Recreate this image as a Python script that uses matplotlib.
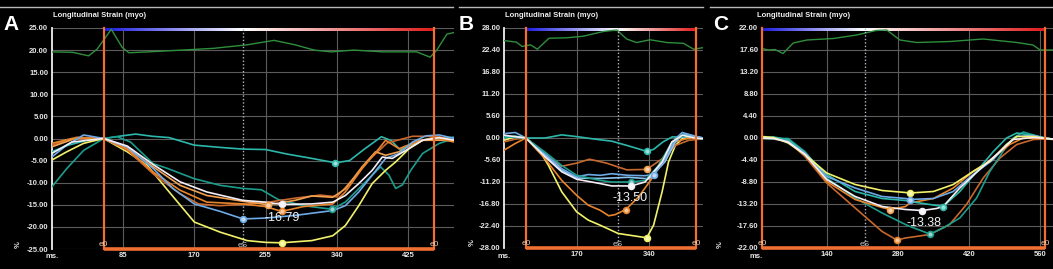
import numpy as np
import matplotlib
matplotlib.use("Agg")
import matplotlib.pyplot as plt
from matplotlib.colors import LinearSegmentedColormap
from matplotlib.lines import Line2D

plt.rcParams['font.family'] = ['Liberation Sans', 'DejaVu Sans']

W, H = 1053, 269

# colours of the segment curves
C_TEAL = '#2cb8ab'
C_TEAL2 = '#1c9c8c'
C_YEL = '#f2f26a'
C_BLUE = '#6eaae6'
C_BLUE2 = '#8cc4f0'
C_WHITE = '#f4eef6'
C_OR = '#e8842a'
C_OR2 = '#f0a050'
C_BROWN = '#c8682c'
C_GREEN = '#2f8f3c'
C_FRAME = '#f07034'

# ---------------- panel A ----------------
a_xticks = [85, 170, 255, 340, 425]
a_yticks = [25, 20, 15, 10, 5, 0, -5, -10, -15, -20, -25]
a_e0 = (62, 456)
a_es = 228
a_green = [(0, 19.6), (25, 19.5), (44, 18.7), (54, 20.2), (62, 22.3), (71, 24.7), (78, 22.5), (84, 20.6),
           (92, 19.4), (115, 19.6), (155, 20.0), (193, 20.4), (233, 21.2), (265, 22.2), (290, 21.2),
           (313, 20.0), (333, 19.6), (360, 20.0), (395, 19.6), (435, 19.6), (451, 18.4), (459, 20.0),
           (471, 23.6), (480, 24.0)]
a_teal1 = [(0, -3.0), (20, -1.5), (40, -0.5), (62, 0.0), (80, 0.5), (100, 1.0), (120, 0.5), (140, 0.2),
           (170, -1.5), (200, -2.0), (228, -2.4), (255, -2.5), (280, -3.5), (310, -4.5), (338, -5.5),
           (355, -5.0), (372, -2.5), (393, 0.4), (405, -0.5), (415, -2.5), (428, -1.5), (445, -0.2),
           (460, 0.0), (480, 0.3)]
a_teal2 = [(0, -11.0), (18, -6.8), (38, -2.7), (62, 0.0), (78, 0.4), (94, -0.8), (121, -5.7), (137, -6.7),
           (170, -9.1), (201, -10.6), (228, -11.3), (250, -11.6), (270, -13.8), (300, -15.2), (334, -16.0),
           (350, -14.4), (370, -10.6), (392, -6.4), (402, -8.3), (410, -11.3), (418, -10.5), (428, -7.2),
           (442, -3.4), (462, -1.1), (480, 0.0)]
a_yellow = [(0, -4.9), (18, -3.0), (38, -1.1), (62, 0.0), (90, -3.0), (114, -6.1), (137, -11.4), (170, -18.9),
            (201, -21.2), (233, -23.1), (255, -23.5), (274, -23.6), (310, -23.1), (335, -22.0), (350, -19.7),
            (366, -15.2), (382, -10.2), (398, -7.2), (410, -5.3), (426, -2.3), (442, -0.4), (462, 0.2),
            (480, -0.4)]
a_blue = [(0, -4.2), (18, -1.5), (38, 0.8), (62, 0.0), (90, -1.9), (121, -6.8), (145, -11.4), (170, -14.8),
          (201, -16.5), (228, -18.2), (255, -18.0), (290, -17.4), (335, -16.3), (350, -15.2), (366, -12.1),
          (382, -8.3), (398, -4.5), (414, -3.4), (430, -0.8), (446, 0.6), (462, 0.8), (480, 0.0)]
a_white = [(0, -3.4), (24, -0.8), (62, 0.0), (90, -1.7), (121, -5.9), (153, -9.8), (185, -12.1), (228, -14.0),
           (255, -14.4), (274, -14.9), (310, -14.8), (335, -14.4), (350, -12.9), (366, -10.2), (382, -7.2),
           (394, -4.2), (406, -4.5), (422, -2.7), (442, -0.4), (462, 0.2), (480, -0.4)]
a_orange1 = [(0, -1.1), (24, 0.0), (62, 0.0), (90, -2.3), (121, -7.6), (153, -11.7), (185, -14.4), (228, -14.8),
             (255, -15.4), (274, -16.5), (300, -15.4), (335, -14.8), (350, -12.1), (370, -6.8), (390, -2.3),
             (398, -0.4), (414, -2.3), (430, -1.1), (454, 0.2), (480, -0.8)]
a_orange2 = [(0, -1.9), (28, 0.0), (62, 0.0), (90, -2.2), (121, -6.4), (153, -10.6), (185, -12.9), (228, -14.2),
             (258, -15.0), (290, -14.0), (310, -13.0), (335, -13.3), (350, -11.4), (370, -6.4), (386, -3.0),
             (398, -3.8), (414, -3.0), (438, -0.4), (480, -0.4)]
a_brown = [(0, -1.5), (30, 0.3), (62, 0.0), (90, -2.6), (121, -8.0), (153, -12.5), (175, -14.8), (200, -15.2),
           (228, -14.9), (255, -14.5), (290, -13.5), (320, -12.8), (340, -13.2), (360, -9.0), (380, -4.5),
           (400, -1.0), (430, 0.5), (460, 0.5), (480, -0.5)]
a_marks = [(338, -5.5, C_TEAL), (334, -16.0, C_TEAL2), (274, -23.6, C_YEL), (228, -18.2, C_BLUE),
           (274, -14.9, C_WHITE), (274, -16.5, C_OR), (258, -15.0, C_OR2)]
a_peak = (254, -18.0, '-16.79')

# ---------------- panel B ----------------
b_xticks = [170, 340]
b_yticks = [28, 22.4, 16.8, 11.2, 5.6, 0, -5.6, -11.2, -16.8, -22.4, -28]
b_e0 = (51, 450)
b_es = 266
b_green = [(0, 24.8), (29, 24.4), (42, 23.3), (62, 23.7), (78, 22.6), (105, 25.4), (146, 25.5), (185, 25.9),
           (232, 27.1), (264, 27.5), (287, 25.2), (310, 24.3), (342, 25.0), (381, 24.3), (420, 24.1),
           (444, 22.6), (466, 23.0)]
b_teal1 = [(0, 0.0), (25, 0.5), (51, 0.0), (96, 0.0), (135, 0.8), (174, 0.3), (213, -0.3), (252, -0.8),
           (291, -2.0), (334, -3.4), (350, -2.9), (372, -1.0), (394, 0.3), (448, 0.0), (466, -0.2)]
b_yellow = [(0, -0.6), (26, 0.3), (51, 0.0), (80, -2.7), (104, -7.0), (135, -13.7), (170, -18.8), (197, -20.9),
            (225, -22.2), (267, -24.3), (334, -25.4), (350, -22.2), (370, -13.7), (385, -6.1), (401, -1.9),
            (417, -0.2), (448, 0.0), (466, -0.2)]
b_orange1 = [(0, -3.1), (26, -1.4), (51, 0.0), (96, -5.3), (135, -10.8), (170, -14.6), (197, -17.1),
             (225, -18.4), (245, -19.8), (260, -19.5), (285, -18.2), (315, -15.0), (346, -10.3), (370, -5.3),
             (401, -1.0), (432, 0.0), (466, -0.2)]
b_orange2 = [(0, -1.0), (26, -0.3), (51, 0.0), (96, -4.4), (135, -7.2), (170, -6.4), (200, -5.4), (240, -6.4),
             (287, -8.1), (334, -8.0), (370, -5.3), (401, -1.9), (432, -0.6), (466, -0.2)]
b_blue = [(0, 1.1), (26, 1.4), (51, 0.0), (96, -4.0), (135, -7.8), (170, -9.9), (197, -9.3), (225, -9.5),
          (252, -9.1), (291, -9.5), (330, -9.6), (352, -9.3), (377, -5.3), (401, -0.2), (417, 1.4),
          (440, 0.7), (466, 0.0)]
b_blue2 = [(0, 0.5), (51, 0.0), (96, -4.4), (135, -8.2), (170, -10.2), (225, -10.3), (291, -10.0),
           (340, -10.4), (377, -6.0), (401, -1.0), (420, 1.0), (466, 0.0)]
b_white = [(0, 0.7), (51, 0.0), (96, -4.8), (135, -8.6), (170, -10.5), (225, -11.6), (252, -12.2),
           (298, -12.2), (330, -11.2), (370, -6.1), (393, -1.0), (417, 0.7), (448, 0.0), (466, -0.2)]
b_teal2 = [(0, 0.3), (51, 0.0), (96, -3.6), (135, -7.0), (170, -9.5), (225, -10.8), (252, -11.2),
           (298, -11.2), (330, -10.8), (362, -7.0), (393, -1.0), (417, 0.8), (448, 0.0), (466, -0.3)]
b_marks = [(334, -3.4, C_TEAL), (334, -25.4, C_YEL), (285, -18.2, C_OR), (334, -8.0, C_OR2),
           (352, -9.3, C_BLUE), (298, -11.2, C_TEAL2), (298, -12.2, C_WHITE)]
b_peak = (255, -15.3, '-13.50')

# ---------------- panel C ----------------
c_xticks = [140, 280, 420, 560]
c_yticks = [22, 17.6, 13.2, 8.8, 4.4, 0, -4.4, -8.8, -13.2, -17.6, -22]
c_e0 = (13, 570)
c_es = 215
c_green = [(12, 17.9), (25, 17.6), (38, 17.7), (54, 16.9), (74, 19.0), (101, 19.6), (153, 19.9),
           (199, 20.6), (237, 21.5), (258, 21.6), (284, 19.6), (317, 19.1), (383, 19.3), (448, 19.8),
           (514, 19.1), (546, 18.6), (560, 17.6), (585, 17.6)]
c_yellow = [(12, 0.3), (35, 0.1), (64, -1.0), (97, -3.3), (140, -7.0), (196, -9.3), (249, -10.5),
            (295, -10.9), (304, -11.0), (350, -10.7), (389, -9.3), (428, -6.7), (461, -4.7), (494, -1.3),
            (514, 0.3), (547, 0.3), (573, -0.1), (585, -0.2)]
c_blue = [(12, 0.1), (35, 0.0), (64, -0.7), (97, -3.0), (140, -7.7), (196, -10.0), (249, -11.7),
          (295, -12.1), (304, -12.3), (350, -12.1), (389, -10.7), (428, -7.3), (468, -4.3), (494, -1.3),
          (514, 0.3), (547, 0.5), (573, -0.1), (585, -0.2)]
c_white = [(12, 0.0), (35, -0.1), (64, -0.8), (97, -3.3), (140, -8.3), (196, -11.7), (249, -13.7),
           (295, -14.3), (328, -14.5), (356, -14.1), (369, -13.7), (402, -10.0), (441, -6.3), (481, -2.7),
           (507, -0.3), (547, 0.1), (573, -0.1), (585, -0.2)]
c_teal1 = [(12, 0.0), (35, 0.2), (64, -0.3), (97, -3.0), (140, -7.3), (196, -10.7), (249, -12.1),
           (295, -12.5), (304, -12.7), (343, -13.3), (369, -13.7), (402, -10.7), (435, -6.7), (468, -2.7),
           (494, 0.0), (514, 1.0), (547, 0.5), (573, -0.1), (585, -0.2)]
c_teal2 = [(12, -0.1), (35, -0.2), (64, -0.1), (97, -2.7), (140, -8.0), (196, -12.0), (249, -15.0),
           (295, -17.3), (304, -17.7), (330, -18.7), (343, -19.2), (369, -18.0), (402, -16.0), (435, -12.0),
           (461, -6.7), (487, -2.7), (507, 0.0), (527, 1.2), (547, 0.6), (573, -0.1), (585, -0.2)]
c_orange1 = [(12, -0.1), (35, -0.2), (64, -0.7), (97, -3.7), (140, -9.0), (196, -14.0), (249, -18.7),
             (278, -20.4), (295, -20.0), (343, -19.3), (382, -17.3), (415, -13.3), (448, -8.0), (481, -4.0),
             (514, -1.3), (547, -0.3), (573, -0.2), (585, -0.3)]
c_orange2 = [(12, 0.0), (35, 0.0), (64, -0.7), (97, -3.2), (140, -8.7), (196, -12.3), (249, -13.9),
             (265, -14.3), (295, -13.7), (304, -13.0), (350, -12.1), (389, -10.0), (428, -6.7), (468, -4.0),
             (500, -1.3), (527, 0.0), (573, -0.1), (585, -0.2)]
c_marks = [(304, -11.0, C_YEL), (304, -12.3, C_BLUE), (328, -14.5, C_WHITE), (369, -13.7, C_TEAL),
           (343, -19.2, C_TEAL2), (278, -20.4, C_OR), (265, -14.3, C_OR2)]
c_peak = (298, -17.0, '-13.38')

fig = plt.figure(figsize=(W / 100, H / 100), dpi=100, facecolor='black')


def add_ax(l, r, t, b):
    return fig.add_axes([l / W, 1 - b / H, (r - l) / W, (b - t) / H])


def lighter(c):
    rgb = np.array(matplotlib.colors.to_rgb(c))
    return tuple(rgb + (1 - rgb) * 0.55)


def draw_panel(ax, xlim, ylim, yticks, xticks, e0, es, green, curves, marks, peak):
    ax.set_facecolor('black')
    x0, x1 = xlim
    y0, y1 = ylim
    # strain colour bar on top
    f = (es - e0[0]) / (e0[1] - e0[0])
    cmap = LinearSegmentedColormap.from_list('st', [(0, '#1c1ce0'), (f, '#ffffff'), (1, '#e01c1c')])
    h = (y1 - y0) * 0.014
    ax.imshow(np.linspace(0, 1, 256)[None, :], cmap=cmap, extent=(e0[0], e0[1], y1 - h, y1),
              aspect='auto', zorder=2)
    ax.set_xlim(x0, x1)
    ax.set_ylim(y0, y1)
    ax.set_yticks(yticks)
    ax.set_yticklabels(['%.2f' % v for v in yticks])
    ax.set_xticks(xticks)
    ax.set_xticklabels([str(v) for v in xticks])
    ax.tick_params(length=0, colors='#e6e6e6', labelsize=5.5, pad=2.5)
    for lab in ax.get_xticklabels() + ax.get_yticklabels():
        lab.set_fontweight('bold')
    ax.grid(color='#5c5c5c', lw=0.8)
    ax.set_axisbelow(True)
    for s in ['top', 'right', 'bottom']:
        ax.spines[s].set_visible(False)
    ax.spines['left'].set_color('#f0f0f0')
    ax.spines['left'].set_linewidth(1.3)

    gx, gy = np.array(green).T
    ax.plot(gx, gy, color=C_GREEN, lw=1.0, zorder=3)
    for pts, col in curves:
        x, y = np.array(pts).T
        ax.plot(x, y, color=col, lw=1.2, zorder=4)
    for mx, my, col in marks:
        ax.plot(mx, my, 'o', ms=4.2, mfc=lighter(col), mec=col, mew=1.2, zorder=6)
    ax.text(peak[0], peak[1], peak[2], color='#f2f2f2', fontsize=9, ha='left', va='center', zorder=7)

    # event lines
    ax.axvline(es, color='#b4b4c4', ls=(0, (1, 1.5)), lw=1, zorder=3)
    ax.text(es, y0, 'eS', color='#c8c8c8', fontsize=6, ha='center', va='bottom', zorder=3)
    for e in e0:
        ax.plot([e, e], [y0, y1], color=C_FRAME, lw=1.6, zorder=5, clip_on=False)
        ax.text(e, y0 + (y1 - y0) * 0.004, 'e0', color='#f0c8a8', fontsize=6, ha='center', va='bottom',
                zorder=6)
    ax.plot([e0[0], e0[1]], [y0, y0], color=C_FRAME, lw=2.6, zorder=5, clip_on=False,
            solid_capstyle='butt')


axA = add_ax(51.7, 454.4, 28, 249)
draw_panel(axA, (0, 480), (-25, 25), a_yticks, a_xticks, a_e0, a_es, a_green,
           [(a_teal1, C_TEAL), (a_teal2, C_TEAL2), (a_yellow, C_YEL), (a_brown, C_BROWN),
            (a_orange2, C_OR2), (a_orange1, C_OR), (a_blue, C_BLUE), (a_white, C_WHITE)],
           a_marks, a_peak)

axB = add_ax(504.1, 703.1, 28, 248)
draw_panel(axB, (0, 466), (-28, 28), b_yticks, b_xticks, b_e0, b_es, b_green,
           [(b_teal1, C_TEAL), (b_yellow, C_YEL), (b_orange1, C_OR), (b_orange2, C_BROWN),
            (b_blue2, C_BLUE2), (b_blue, C_BLUE), (b_teal2, C_TEAL2), (b_white, C_WHITE)],
           b_marks, b_peak)

axC = add_ax(761.7, 1052.8, 28, 248)
draw_panel(axC, (12, 585), (-22, 22), c_yticks, c_xticks, c_e0, c_es, c_green,
           [(c_orange1, C_BROWN), (c_teal2, C_TEAL2), (c_orange2, C_OR), (c_teal1, C_TEAL),
            (c_blue, C_BLUE), (c_yellow, C_YEL), (c_white, C_WHITE)],
           c_marks, c_peak)

# header lines, letters, titles, axis words
for l, r in [(0, 453), (459, 703), (710, 1053)]:
    fig.add_artist(Line2D([l / W, r / W], [1 - 7 / H] * 2, color='#b8b8b8', lw=1))
for x, letter in [(11, 'A'), (466, 'B'), (721, 'C')]:
    fig.text(x / W, 1 - 24 / H, letter, color='white', fontsize=15, fontweight='bold',
             ha='center', va='center')
for x in [53, 505, 757]:
    fig.text(x / W, 1 - 15.5 / H, 'Longitudinal Strain (myo)', color='#f0f0f0', fontsize=5.5,
             fontweight='bold', ha='left', va='center')
for x in [46, 498, 749]:
    fig.text(x / W, 1 - 256.5 / H, 'ms.', color='#e6e6e6', fontsize=5.5, fontweight='bold',
             ha='left', va='center')
for x, y in [(18, 245), (472, 243), (720, 245)]:
    fig.text(x / W, 1 - y / H, '%', color='#e6e6e6', fontsize=5.5, fontweight='bold',
             ha='center', va='center', rotation=90)

fig.savefig('out.png', dpi=100, facecolor='black')
